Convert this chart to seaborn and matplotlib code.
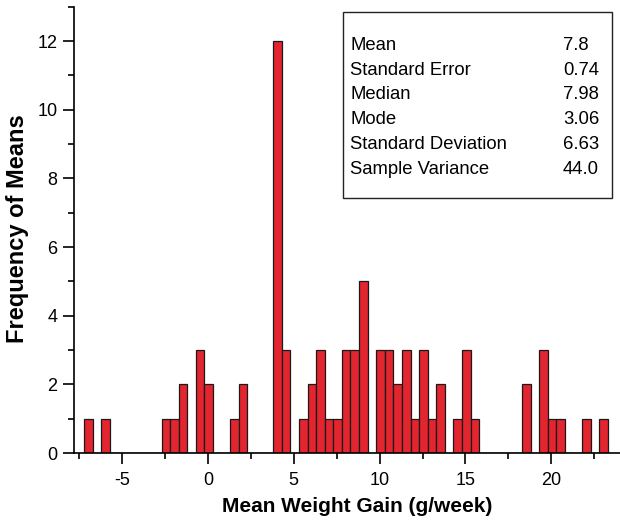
import numpy as np
import pandas as pd
import matplotlib
matplotlib.use("Agg")
import matplotlib.pyplot as plt
from matplotlib.ticker import MultipleLocator
from matplotlib.patches import Rectangle
import seaborn as sns

# ---- data (bin centres of 0.5-wide bins, and counts) ----
bin_centers = [-6.95, -5.95, -2.45, -1.95, -1.45, -0.45, 0.05, 1.55, 2.05,
               4.05, 4.55, 5.55, 6.05, 6.55, 7.05, 7.55, 8.05, 8.55, 9.05,
               10.05, 10.55, 11.05, 11.55, 12.05, 12.55, 13.05, 13.55,
               14.55, 15.05, 15.55, 18.55, 19.55, 20.05, 20.55, 22.05, 23.05]
counts = [1, 1, 1, 1, 2, 3, 2, 1, 2,
          12, 3, 1, 2, 3, 1, 1, 3, 3, 5,
          3, 3, 2, 3, 1, 3, 1, 2,
          1, 3, 1, 2, 3, 1, 1, 1, 1]
bin_width = 0.5
bin_start = -7.2
bin_stop = 23.3

stat_labels = ["Mean", "Standard Error", "Median", "Mode",
               "Standard Deviation", "Sample Variance"]
stat_values = ["7.8", "0.74", "7.98", "3.06", "6.63", "44.0"]

x_ticks = [-5, 0, 5, 10, 15, 20]
y_ticks = [0, 2, 4, 6, 8, 10, 12]

df = pd.DataFrame({"center": bin_centers, "count": counts})

sns.set_style("ticks")
plt.rcParams["font.family"] = ["Liberation Sans", "DejaVu Sans"]
plt.rcParams["axes.unicode_minus"] = False
plt.rcParams["text.color"] = "black"
plt.rcParams["axes.labelcolor"] = "black"

W, H = 620, 521
fig = plt.figure(figsize=(W / 100, H / 100), dpi=100)
ax_l, ax_r, ax_b, ax_t = 74, 620, 453, 6.7
ax = fig.add_axes([ax_l / W, 1 - ax_b / H, (ax_r - ax_l) / W, (ax_b - ax_t) / H])

sns.histplot(data=df, x="center", weights="count", binwidth=bin_width,
             binrange=(bin_start, bin_stop),
             color="#E2252F", edgecolor="#1a1a1a", linewidth=0.9, alpha=1.0, ax=ax)

ax.set_xlim(-7.8, 24.0)
ax.set_ylim(0, 13)
ax.set_xticks(x_ticks)
ax.set_yticks(y_ticks)
ax.xaxis.set_minor_locator(MultipleLocator(2.5))
ax.yaxis.set_minor_locator(MultipleLocator(1))
ax.tick_params(axis="both", which="major", length=8, width=1.2, labelsize=13,
               colors="black", direction="out")
ax.tick_params(axis="x", which="major", pad=6)
ax.tick_params(axis="y", which="major", pad=4)
ax.tick_params(axis="both", which="minor", length=4, width=1.2, direction="out",
               colors="black")
for s in ["top", "right"]:
    ax.spines[s].set_visible(False)
for s in ["left", "bottom"]:
    ax.spines[s].set_linewidth(1.2)
    ax.spines[s].set_color("black")

aw = ax_r - ax_l
ah = ax_b - ax_t
def fx(px):
    return (px - ax_l) / aw
def fy(py):
    return (ax_b - py) / ah

ax.set_xlabel("Mean Weight Gain (g/week)", fontsize=15, fontweight="bold")
ax.set_ylabel("Frequency of Means", fontsize=17, fontweight="bold")
ax.xaxis.set_label_coords(fx(357), fy(497))
ax.yaxis.set_label_coords(fx(29), fy(229))

# stats box
box = Rectangle((fx(343), fy(198)), fx(612) - fx(343), fy(12) - fy(198),
                transform=ax.transAxes, facecolor="white", edgecolor="#222222",
                linewidth=1.0, zorder=5, clip_on=False)
ax.add_patch(box)
for i, (lab, val) in enumerate(zip(stat_labels, stat_values)):
    yb = 50 + i * 24.7
    ax.text(fx(350), fy(yb), lab, transform=ax.transAxes, fontsize=13.3,
            va="baseline", ha="left", zorder=6)
    ax.text(fx(563), fy(yb), val, transform=ax.transAxes, fontsize=13.3,
            va="baseline", ha="left", zorder=6)

fig.savefig("out.png", dpi=100)
